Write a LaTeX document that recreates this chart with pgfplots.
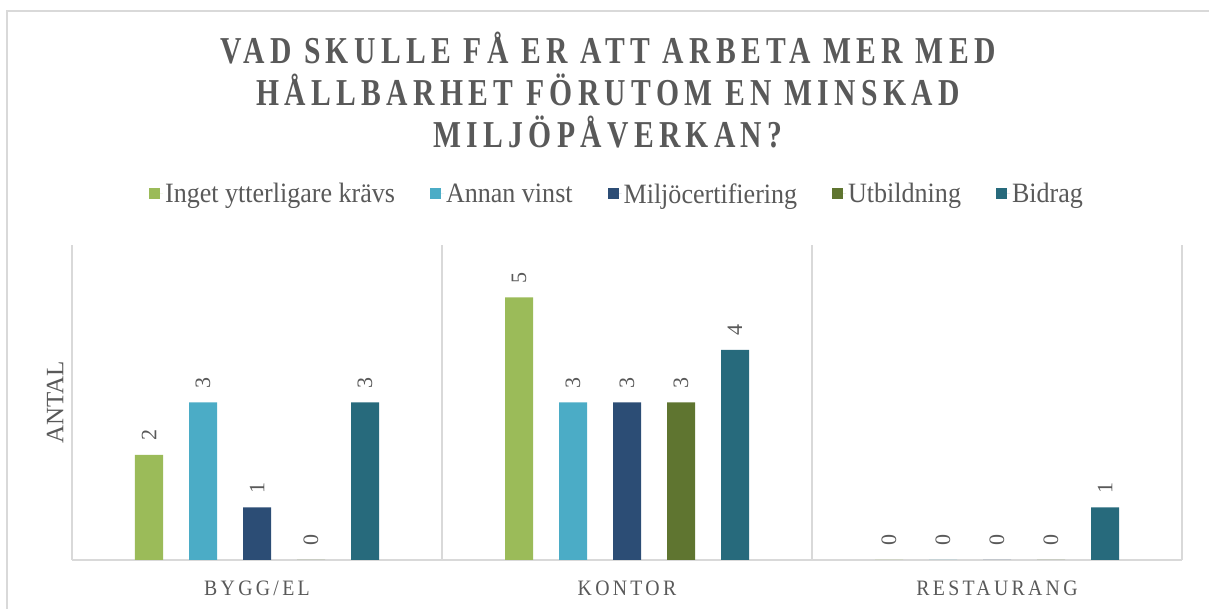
\documentclass[border=0pt]{standalone}
\usepackage{fontspec}
\setmainfont{Liberation Serif}
\newfontfamily\titlefont[FakeStretch=0.78,LetterSpace=14]{Liberation Serif}
\newfontfamily\catfont[FakeStretch=0.9,LetterSpace=15]{Liberation Serif}
\newfontfamily\legfont[FakeStretch=0.93]{Liberation Serif}
\usepackage{pgfplots}
\pgfplotsset{compat=1.18}
\definecolor{cGreen}{HTML}{9BBB59}
\definecolor{cCyan}{HTML}{4BACC6}
\definecolor{cNavy}{HTML}{2C4D75}
\definecolor{cOlive}{HTML}{5F7530}
\definecolor{cTeal}{HTML}{276A7C}
\definecolor{txtgray}{HTML}{595959}
\definecolor{axgray}{HTML}{D9D9D9}
\begin{document}
\begin{tikzpicture}[x=1pt,y=1pt]
\useasboundingbox (0,0) rectangle (1209,609);
\draw[axgray, line width=1.5pt] (7,-5) -- (7,598) -- (1215,598);
\node[anchor=base, text=txtgray, font=\titlefont\bfseries\fontsize{38}{44}\selectfont] at (608,545) {VAD SKULLE FÅ ER ATT ARBETA MER MED};
\node[anchor=base, text=txtgray, font=\titlefont\bfseries\fontsize{38}{44}\selectfont] at (608,503) {HÅLLBARHET FÖRUTOM EN MINSKAD};
\node[anchor=base, text=txtgray, font=\titlefont\bfseries\fontsize{38}{44}\selectfont] at (608,461) {MILJÖPÅVERKAN?};
\begin{axis}[
  at={(72pt,49pt)}, anchor=south west,
  width=1110pt, height=315pt, scale only axis,
  xmin=-0.5, xmax=2.5, ymin=0, ymax=6,
  axis x line*=bottom, axis y line*=left,
  axis line style={draw=axgray, line width=1.5pt, -},
  ytick=\empty,
  xtick={0,1,2},
  xticklabels={BYGG/EL,KONTOR,RESTAURANG},
  major tick length=0pt,
  xticklabel style={anchor=base, yshift=-36pt, font=\catfont\fontsize{22}{26}\selectfont, text=txtgray},
  extra x ticks={0.5,1.5,2.5},
  extra x tick labels={},
  extra x tick style={grid=major, major grid style={draw=axgray, line width=1.5pt}},
  ylabel={ANTAL},
  every axis y label/.style={at={(axis description cs:-0.0153,0.5)}, rotate=90, anchor=center, font=\fontsize{25}{28}\selectfont, text=txtgray},
  ybar=26pt, bar width=28pt,
  /pgf/number format/assume math mode=true,
  nodes near coords,
  every node near coord/.append style={rotate=90, anchor=west, inner xsep=14pt, inner ysep=0pt, font=\fontsize{22}{26}\selectfont, text=txtgray},
  legend columns=5,
  legend style={draw=none, at={(rel axis cs:0.491,1.162)}, anchor=center, font=\legfont\fontsize{28}{30}\selectfont, text=txtgray, /tikz/every even column/.append style={column sep=33pt}},
  legend image code/.code={\fill[#1] (0pt,-5.5pt) rectangle (11pt,5.5pt); \path (11pt,0pt) -- (14pt,0pt);},
]
\addplot[fill=cGreen, draw=none] coordinates {(0,2) (1,5) (2,0)};
\addplot[fill=cCyan, draw=none] coordinates {(0,3) (1,3) (2,0)};
\addplot[fill=cNavy, draw=none] coordinates {(0,1) (1,3) (2,0)};
\addplot[fill=cOlive, draw=none] coordinates {(0,0) (1,3) (2,0)};
\addplot[fill=cTeal, draw=none] coordinates {(0,3) (1,4) (2,1)};
\legend{Inget ytterligare krävs, Annan vinst, Miljöcertifiering, Utbildning, Bidrag}
\end{axis}
\end{tikzpicture}
\end{document}
